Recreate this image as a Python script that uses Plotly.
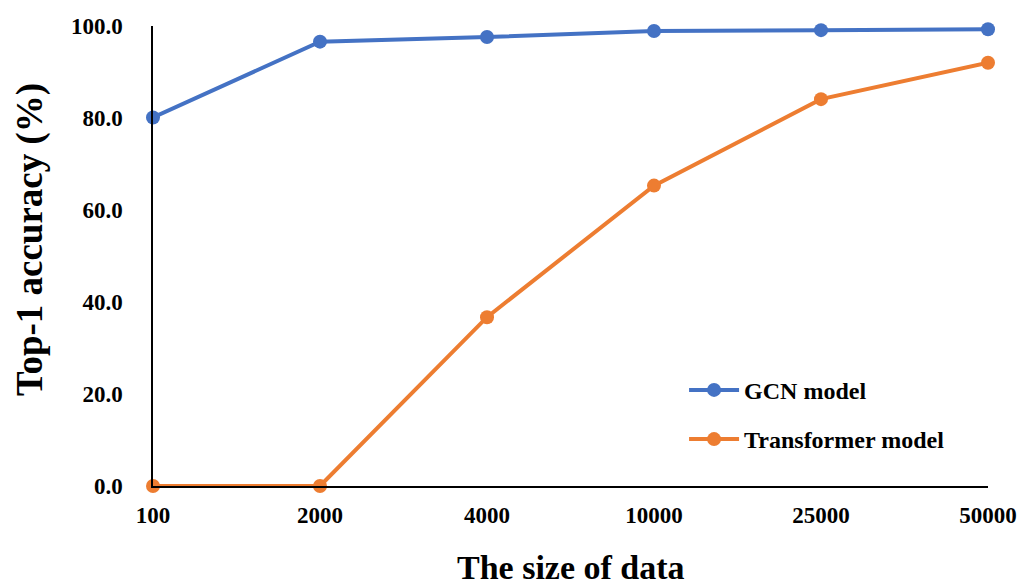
import plotly.graph_objects as go

categories = ["100", "2000", "4000", "10000", "25000", "50000"]
gcn_acc = [80.1, 96.6, 97.6, 98.9, 99.1, 99.3]
transformer_acc = [0.0, 0.0, 36.7, 65.3, 84.1, 92.0]
y_ticks = [0, 20, 40, 60, 80, 100]
y_ticklabels = ["0.0", "20.0", "40.0", "60.0", "80.0", "100.0"]

FONT = "Liberation Serif"
BLUE = "#4472C4"
ORANGE = "#ED7D31"

fig = go.Figure()
fig.add_trace(go.Scatter(
    x=categories, y=gcn_acc, name="<b>GCN model</b>", mode="lines+markers",
    line=dict(color=BLUE, width=4), marker=dict(color=BLUE, size=14),
    cliponaxis=False, legendgroup="g1"))
fig.add_trace(go.Scatter(
    x=categories, y=transformer_acc, name="<b>Transformer model</b>", mode="lines+markers",
    line=dict(color=ORANGE, width=4), marker=dict(color=ORANGE, size=14),
    cliponaxis=False, legendgroup="g2"))

fig.update_layout(
    width=1022, height=587,
    margin=dict(l=153, r=34, t=26, b=101),
    paper_bgcolor="white", plot_bgcolor="white",
    font=dict(family=FONT, color="black", size=18),
    showlegend=True,
    legend=dict(x=0.636, y=0.257, xanchor="left", yanchor="top",
                font=dict(family=FONT, size=24, color="black"),
                itemwidth=50,
                tracegroupgap=15, bgcolor="rgba(0,0,0,0)"),
    xaxis=dict(
        type="category", range=[0, 5], showgrid=False, zeroline=False,
        showline=True, linecolor="black", linewidth=1.5, ticks="",
        ticklabelstandoff=8, automargin=False,
        tickfont=dict(family=FONT, size=23, color="black", weight="bold"),
    ),
    yaxis=dict(
        range=[0, 100], tickvals=y_ticks, ticktext=y_ticklabels,
        showgrid=False, zeroline=False, showline=True, linecolor="black", linewidth=1.5,
        ticks="", ticklabelstandoff=24, automargin=False,
        tickfont=dict(family=FONT, size=23, color="black", weight="bold"),
    ),
    annotations=[
        dict(text="<b>The size of data</b>", xref="paper", yref="paper",
             x=0.5, y=-0.178, xanchor="center", yanchor="middle", showarrow=False,
             font=dict(family=FONT, size=34, color="black")),
        dict(text="<b>Top-1 accuracy (%)</b>", xref="paper", yref="paper",
             x=-0.1473, y=0.535, xanchor="center", yanchor="middle", showarrow=False,
             textangle=-90, font=dict(family=FONT, size=37, color="black")),
    ],
)

fig.write_html("out.html", config={"displayModeBar": False})

# remove the browser's default body margin so the figure fills the window exactly
with open("out.html", encoding="utf-8") as f:
    html = f.read()
html = html.replace("<body>", '<body style="margin:0;padding:0;overflow:hidden">', 1)
with open("out.html", "w", encoding="utf-8") as f:
    f.write(html)
